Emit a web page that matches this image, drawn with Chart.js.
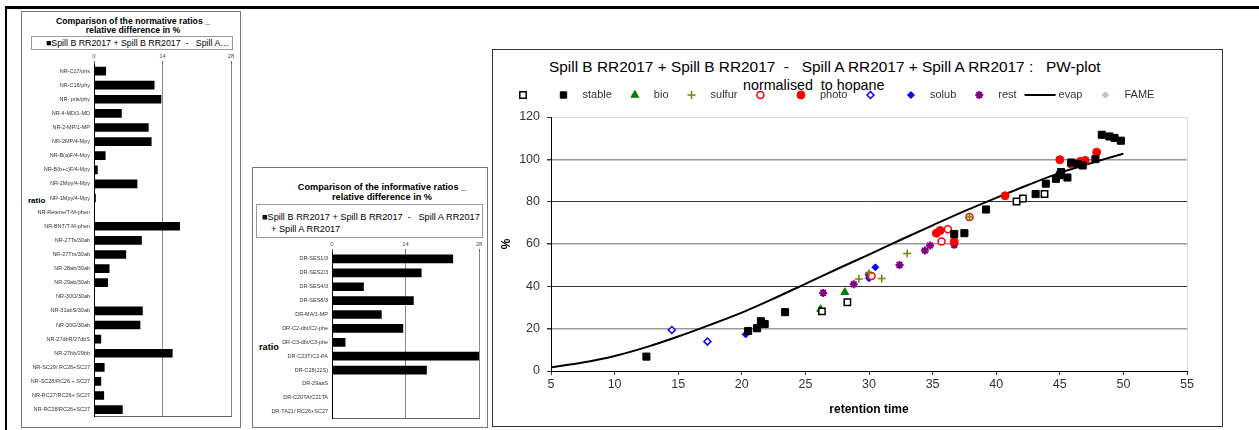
<!DOCTYPE html>
<html>
<head>
<meta charset="utf-8">
<script src="https://cdn.jsdelivr.net/npm/chart.js"></script>
<style>
  body { margin: 0; width: 1259px; height: 430px; position: relative; background: #fff; overflow: hidden;
         font-family: "Liberation Sans", Arial, sans-serif; }
  .box { position: absolute; box-sizing: border-box; border: 1px solid #777; }
  .t { position: absolute; white-space: pre; color: #000; line-height: 1; }
  .c { transform: translate(-50%, -50%); }
  .l { transform: translateY(-50%); }
  .chart { position: absolute; }
</style>
</head>
<body>
<!-- outer frame -->
<div style="position:absolute;left:5px;top:6px;width:1254px;height:3px;background:#000"></div>
<div style="position:absolute;left:5px;top:6px;width:2px;height:424px;background:#000"></div>

<!-- panel 1 : normative ratios -->
<div class="box" style="left:21px;top:11px;width:220px;height:417px"></div>
<div class="t c" style="left:133px;top:21px;font-size:8.7px;font-weight:bold">Comparison of the normative ratios _</div>
<div class="t c" style="left:133px;top:30px;font-size:8.7px;font-weight:bold">relative difference in %</div>
<div class="box" style="left:31px;top:36px;width:202px;height:14px;border-color:#999"></div>
<div class="t l" style="left:46px;top:43px;font-size:8.8px">■Spill B RR2017 + Spill B RR2017  -   Spill A…</div>
<div class="t l" style="left:28px;top:201px;font-size:8px;font-weight:bold">ratio</div>
<div class="chart" style="left:23px;top:50px;width:214px;height:374px"><canvas id="normChart"></canvas></div>

<!-- panel 2 : informative ratios -->
<div class="box" style="left:252px;top:167px;width:236px;height:261px"></div>
<div class="t c" style="left:382px;top:188px;font-size:9.2px;font-weight:bold">Comparison of the informative ratios _</div>
<div class="t c" style="left:382px;top:198px;font-size:9.2px;font-weight:bold">relative difference in %</div>
<div class="box" style="left:256px;top:204px;width:227px;height:34px;border-color:#999"></div>
<div class="t l" style="left:262px;top:218px;font-size:9.2px">■Spill B RR2017 + Spill B RR2017  -   Spill A RR2017</div>
<div class="t l" style="left:271px;top:230px;font-size:9.2px">+ Spill A RR2017</div>
<div class="t l" style="left:259px;top:348px;font-size:9.2px;font-weight:bold">ratio</div>
<div class="chart" style="left:254px;top:238px;width:232px;height:188px"><canvas id="infoChart"></canvas></div>

<!-- panel 3 : PW-plot -->
<div class="box" style="left:492px;top:49px;width:731px;height:378px;border-color:#333"></div>
<div class="t l" style="left:549px;top:67px;font-size:15.4px">Spill B RR2017 + Spill B RR2017  -   Spill A RR2017 + Spill A RR2017 :   PW-plot</div>
<div class="t l" style="left:743px;top:85px;font-size:14.3px">normalised  to hopane</div>
<div class="chart" style="left:494px;top:52px;width:726px;height:372px"><canvas id="pwChart"></canvas></div>

<script>
// ===== datos =====
const normLabels = ['NR-C17/pris', 'NR-C18/phy', 'NR- pris/phy', 'NR-4-MD/1-MD', 'NR-2-MP/1-MP', 'NR-2MP/4-Mpy',
  'NR-B(a)F/4-Mpy', 'NR-B(b+c)F/4-Mpy', 'NR-2Mpy/4-Mpy', 'NR-1Mpy/4-Mpy', 'NR-Retene/T-M-phen', 'NR-BNT/T-M-phen',
  'NR-27Ts/30ab', 'NR-27Tm/30ab', 'NR-28ab/30ab', 'NR-29ab/30ab', 'NR-30O/30ab', 'NR-31abS/30ab', 'NR-30G/30ab',
  'NR-27dbR/27dbS', 'NR-27bb/29bb', 'NR-SC29/ RC26+SC27', 'NR-SC28/RC26 + SC27', 'NR-RC27/RC26+ SC27', 'NR-RC28/RC26+SC27'];
const normValues = [2.4, 12.3, 13.7, 5.6, 11.1, 11.7, 2.3, 0.7, 8.8, 0.3, 0, 17.5,
  9.7, 6.5, 3.1, 2.8, 0, 9.9, 9.4, 1.4, 16.0, 2.1, 1.4, 2.0, 5.8];

const infoLabels = ['DR-SES1/3', 'DR-SES2/3', 'DR-SES4/3', 'DR-SES8/3', 'DR-MA/1-MP', 'DR-C2-dbt/C2-phe',
  'DR-C3-dbt/C3-phe', 'DR-C23T/C2-PA', 'DR-C28(22S)', 'DR-29aaS', 'DR-C20TA/C21TA', 'DR-TA21/ RC26+SC27'];
const infoValues = [23.0, 17.0, 6.0, 15.5, 9.4, 13.5, 2.5, 28.0, 18.0, 0, 0, 0];

const barTicks = [0, 14, 28];

// PW-plot: [retention time, %]
const stableOpen = [[26.3, 28.2], [28.3, 32.5], [41.6, 80.1], [42.1, 81.5], [43.8, 83.6]];
const stable = [[12.5, 6.8], [20.5, 18.9], [21.2, 20.2], [21.5, 23.5], [21.8, 22.2], [23.4, 27.8],
  [36.7, 64.7], [37.5, 65.1], [39.2, 76.3], [43.1, 83.6], [43.9, 88.5], [44.7, 90.8], [45.0, 92.5],
  [45.1, 94.0], [45.6, 91.4], [45.9, 98.5], [46.4, 97.7], [46.8, 97.1], [47.8, 100.1],
  [48.3, 111.6], [48.9, 110.8], [49.3, 110.1], [49.8, 108.8]];
const bio = [[26.2, 29.2], [28.1, 37.2]];
const sulfur = [[29.2, 43.5], [30.0, 46.2], [31.0, 43.7], [33.0, 55.5], [37.9, 72.8]];
const photoOpen = [[30.2, 44.9], [35.7, 61.2], [36.2, 67.0], [37.9, 72.8]];
const photo = [[35.3, 65.1], [35.6, 66.4], [36.7, 61.2], [40.7, 82.8], [45.0, 99.8], [45.9, 97.8],
  [46.6, 99.0], [47.0, 99.5], [47.9, 103.4]];
const solubOpen = [[14.5, 19.4], [17.3, 13.9]];
const solub = [[20.3, 17.3], [30.0, 43.8], [30.5, 49.0]];
const rest = [[26.4, 36.9], [28.8, 41.0], [30.0, 45.5], [32.4, 50.1], [34.4, 56.9], [34.8, 59.3], [36.7, 59.6]];
const evap = [[5, 1.7], [7.5, 4.0], [10, 7.1], [12.5, 11.3], [15, 16.3], [17.5, 21.8], [20, 27.6],
  [22.5, 34.2], [25, 41.2], [27.5, 48.2], [30, 55.0], [32.5, 62.0], [35, 68.8], [37.5, 75.5],
  [40, 81.8], [42.5, 87.9], [45, 93.6], [47.5, 98.3], [50, 102.6]];
const fame = [];

const FONT = '"Liberation Sans", Arial, sans-serif';
Chart.defaults.font.family = FONT;

function toXY(arr) {
  return arr.map(p => ({ x: p[0], y: p[1] }));
}

// ===== barras horizontales =====
function barChart(id, labels, values, yWidth, xHeight, padRight, padBottom) {
  new Chart(document.getElementById(id), {
    type: 'bar',
    data: {
      labels: labels,
      datasets: [{
        data: values,
        backgroundColor: '#000',
        barThickness: 8
      }]
    },
    options: {
      indexAxis: 'y',
      animation: false,
      responsive: true,
      maintainAspectRatio: false,
      events: [],
      layout: { padding: { right: padRight, bottom: padBottom } },
      plugins: { legend: { display: false }, tooltip: { enabled: false } },
      scales: {
        x: {
          position: 'top',
          min: 0,
          max: 28,
          afterBuildTicks: s => { s.ticks = barTicks.map(v => ({ value: v })); },
          ticks: { font: { size: 6 }, color: '#555', padding: 1 },
          grid: { color: '#888', tickColor: '#666', tickLength: 3 },
          border: { display: false },
          afterFit: s => { s.height = xHeight; }
        },
        x2: {
          type: 'linear',
          axis: 'x',
          position: 'bottom',
          min: 0,
          max: 28,
          ticks: { display: false },
          grid: { display: false, drawTicks: false },
          border: { color: '#666' },
          afterFit: s => { s.height = 0; }
        },
        y: {
          ticks: { font: { size: 5.5 }, color: '#333', autoSkip: false, padding: 4 },
          grid: { display: false, drawTicks: false },
          border: { color: '#000' },
          afterFit: s => { s.width = yWidth; }
        }
      }
    }
  });
}

barChart('normChart', normLabels, normValues, 71, 14, 6, 3);
barChart('infoChart', infoLabels, infoValues, 78, 14, 7, 1.5);

// ===== leyenda del PW-plot =====
const pwLegend = {
  id: 'pwLegend',
  afterDraw(chart) {
    const ctx = chart.ctx;
    const y = 43;
    let x = 14;
    ctx.save();
    ctx.font = '11px ' + FONT;
    ctx.textBaseline = 'middle';
    chart.data.datasets.forEach(ds => {
      const cx = x + 15;
      if (ds.pointStyle === 'line') {
        ctx.strokeStyle = ds.borderColor;
        ctx.lineWidth = 2;
        ctx.beginPath();
        ctx.moveTo(x, y);
        ctx.lineTo(x + 31, y);
        ctx.stroke();
      } else {
        ctx.fillStyle = ds.backgroundColor;
        ctx.strokeStyle = ds.borderColor;
        ctx.lineWidth = ds.borderWidth;
        Chart.helpers.drawPoint(ctx, {
          pointStyle: ds.pointStyle, radius: ds.legendRadius || ds.pointRadius,
          borderWidth: ds.borderWidth, rotation: 0
        }, cx, y);
      }
      if (ds.label) {
        ctx.fillStyle = '#333';
        ctx.fillText(ds.label, x + 34, y);
        x += 34 + ctx.measureText(ds.label).width + 8;
      } else {
        x += 40.5;
      }
    });
    ctx.restore();
  }
};

function gridColor(c) {
  const v = c.tick.value;
  if (v === 120) return '#ddd';
  if (v === 40 || v === 80) return '#333';
  return '#999';
}

new Chart(document.getElementById('pwChart'), {
  type: 'scatter',
  data: {
    datasets: [
      { label: '', data: toXY(stableOpen), pointStyle: 'rect', pointRadius: 4.5, legendRadius: 4.5,
        backgroundColor: '#fff', borderColor: '#000', borderWidth: 1.5 },
      { label: 'stable', data: toXY(stable), pointStyle: 'rect', pointRadius: 5, legendRadius: 4.5,
        backgroundColor: '#000', borderColor: '#000', borderWidth: 1 },
      { label: 'bio', data: toXY(bio), pointStyle: 'triangle', pointRadius: 4.5,
        backgroundColor: '#008000', borderColor: '#008000', borderWidth: 1 },
      { label: 'sulfur', data: toXY(sulfur), pointStyle: 'cross', pointRadius: 4,
        backgroundColor: '#808000', borderColor: '#808000', borderWidth: 1.5 },
      { label: '', data: toXY(photoOpen), pointStyle: 'circle', pointRadius: 3.5,
        backgroundColor: '#fff', borderColor: '#ff0000', borderWidth: 1.5 },
      { label: 'photo', data: toXY(photo), pointStyle: 'circle', pointRadius: 4,
        backgroundColor: '#ff0000', borderColor: '#ff0000', borderWidth: 1 },
      { label: '', data: toXY(solubOpen), pointStyle: 'rectRot', pointRadius: 3.5,
        backgroundColor: '#fff', borderColor: '#0000ff', borderWidth: 1.5 },
      { label: 'solub', data: toXY(solub), pointStyle: 'rectRot', pointRadius: 3.5,
        backgroundColor: '#0000ff', borderColor: '#0000ff', borderWidth: 1 },
      { label: 'rest', data: toXY(rest), pointStyle: 'star', pointRadius: 4,
        backgroundColor: '#800080', borderColor: '#800080', borderWidth: 2 },
      { label: 'evap', data: toXY(evap), showLine: true, pointRadius: 0, pointStyle: 'line',
        borderColor: '#000', borderWidth: 2, cubicInterpolationMode: 'monotone', fill: false },
      { label: 'FAME', data: toXY(fame), pointStyle: 'rectRot', pointRadius: 3,
        backgroundColor: '#b8c8d8', borderColor: '#a0b4c8', borderWidth: 1 }
    ]
  },
  options: {
    animation: false,
    responsive: true,
    maintainAspectRatio: false,
    events: [],
    layout: { padding: { top: 65, right: 33 } },
    plugins: { legend: { display: false }, tooltip: { enabled: false } },
    scales: {
      x: {
        type: 'linear',
        min: 5,
        max: 55,
        ticks: { stepSize: 5, font: { size: 12.5 }, color: '#333', padding: 2 },
        grid: { color: c => (c.tick.value === 55 ? '#ddd' : 'rgba(0,0,0,0)'), tickColor: '#333', tickLength: 4 },
        border: { color: '#000' },
        title: { display: true, text: 'retention time', color: '#000',
                 font: { size: 12, weight: 'bold' }, padding: { bottom: 7 } },
        afterFit: s => { s.height = 53; }
      },
      y: {
        min: 0,
        max: 120,
        ticks: { stepSize: 20, font: { size: 12.5 }, color: '#333', padding: 7 },
        grid: { color: gridColor, lineWidth: c => (c.tick.value % 40 === 0 ? 1 : 1.5), tickColor: '#333', tickLength: 4 },
        border: { color: '#000' },
        title: { display: true, text: '%', color: '#000',
                 font: { size: 12, weight: 'bold' }, padding: { top: 5 } },
        afterFit: s => { s.width = 57; }
      }
    }
  },
  plugins: [pwLegend]
});
</script>
</body>
</html>
